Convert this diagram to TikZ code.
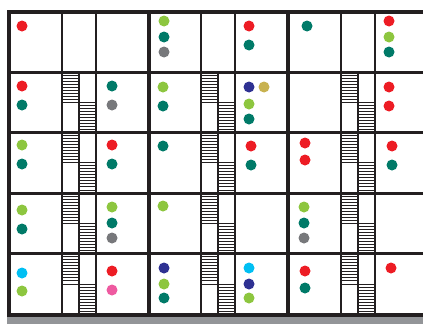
\documentclass[tikz,border=0pt]{standalone}
\usepackage{tikz}
\definecolor{cwall}{RGB}{35,31,32}
\definecolor{cground}{RGB}{147,149,152}
\definecolor{cred}{RGB}{237,28,36}
\definecolor{cteal}{RGB}{0,122,104}
\definecolor{clime}{RGB}{141,198,63}
\definecolor{cgrey}{RGB}{119,120,123}
\definecolor{cnavy}{RGB}{46,49,146}
\definecolor{cgold}{RGB}{200,178,80}
\definecolor{ccyan}{RGB}{0,191,243}
\definecolor{cpink}{RGB}{238,90,160}
% one flight of stairs: box from (#1,#3) to (#2,#4) with treads
\newcommand{\flight}[4]{%
  \draw[cwall,line width=1pt] (#1,#3) rectangle (#2,#4);
  \foreach \k in {1,...,9}{%
    \pgfmathsetmacro{\yy}{#3+\k*(#4-#3)/10}%
    \draw[cwall,line width=0.9pt] (#1,\yy)--(#2,\yy);}}
\newcommand{\pdot}[3]{\fill[#1] (#2,#3) circle (5.5pt);}

\begin{document}
\begin{tikzpicture}[x=1pt,y=-1pt]
\useasboundingbox (0,0) rectangle (423,324);

% ===== GROUND =====
\fill[cground] (7,317) rectangle (423,324);

% ===== STAIRWELLS (floors 2 to 5) =====
\foreach \a/\s/\b in {62/79/96, 201/218/235, 341/358/375}{
  \foreach \t/\u in {72/132, 132/193, 193/253, 253/315}{
    \pgfmathsetmacro{\m}{(\t+\u)/2}
    \flight{\a}{\s}{\t}{\m}
    \flight{\s}{\b}{\m}{\u}
    \draw[cwall,line width=1.3pt] (\s,\t)--(\s,\u);}}

% ===== PARTITIONS =====
\foreach \x in {62,96,201,235,341,375}
  \draw[cwall,line width=2.1pt] (\x,12)--(\x,315);
\foreach \y in {72,132,193,253}
  \draw[cwall,line width=3pt] (9,\y)--(423,\y);

% ===== OUTER WALLS + TOWER WALLS =====
\foreach \x in {149,288}
  \draw[cwall,line width=3.2pt] (\x,12)--(\x,315);
\draw[cwall,line width=3.2pt] (423,12)--(9,12)--(9,316);
\draw[cwall,line width=3.4pt] (7.4,315)--(423,315);

% ===== OCCUPANTS =====
\foreach \c/\x/\y in {
  cred/22/26, clime/164/21, cteal/164/37, cgrey/164/52,
  cred/249/26, cteal/249/45, cteal/307/26,
  cred/389/21, clime/389/37, cteal/389/52,
  cred/22/86, cteal/22/105, cteal/112/86, cgrey/112/105,
  clime/163/87, cteal/163/106,
  cnavy/249/87, cgold/264/87, clime/249/104, cteal/249/119,
  cred/389/87, cred/389/106,
  clime/22/145, cteal/22/164, cred/112/145, cteal/112/164,
  cteal/163/146, cred/251/146, cteal/251/165,
  cred/305/143, cred/305/160, cred/392/146, cteal/392/165,
  clime/22/210, cteal/22/229,
  clime/112/207, cteal/112/223, cgrey/112/238,
  clime/163/206,
  clime/304/207, cteal/304/223, cgrey/304/238,
  ccyan/22/273, clime/22/291, cred/112/271, cpink/112/290,
  cnavy/164/268, clime/164/284, cteal/164/298,
  ccyan/249/268, cnavy/249/284, clime/249/298,
  cred/305/271, cteal/305/288, cred/391/268}{
  \pdot{\c}{\x}{\y}}

\end{tikzpicture}
\end{document}
